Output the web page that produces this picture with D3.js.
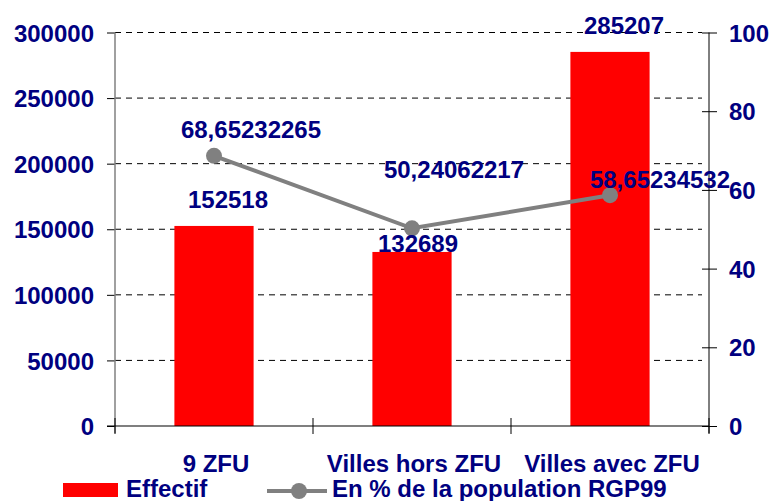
<!DOCTYPE html>
<html>
<head>
<meta charset="utf-8">
<script src="https://cdn.jsdelivr.net/npm/d3@7"></script>
<style>
  body { margin: 0; background: #fff; }
  text { font-family: "Liberation Sans", Arial, sans-serif; font-weight: bold; fill: #000080; }
</style>
</head>
<body>
<div id="chart"></div>
<script>
// data
var categories = ["9 ZFU", "Villes hors ZFU", "Villes avec ZFU"];
var effectif = [152518, 132689, 285207];
var pourcent = [68.65232265, 50.24062217, 58.65234532];
var pourcentLabels = ["68,65232265", "50,24062217", "58,65234532"];
var leftTicks = [0, 50000, 100000, 150000, 200000, 250000, 300000];
var rightTicks = [0, 20, 40, 60, 80, 100];
var legendNames = ["Effectif", "En % de la population RGP99"];

// label nudges (dx, dy) as placed on the original chart
var barLabelNudge = [[14, -18], [6, 0], [14, -18]];
var lineLabelNudge = [[37, -18], [42, -50], [50, -7]];

drawChart();

function drawChart() {
    var width = 774, height = 501;
    var plotLeft = 115, plotRight = 709, plotTop = 32.5, plotBottom = 426;

    var svg = d3.select("#chart").append("svg")
        .attr("width", width)
        .attr("height", height);

    var x = d3.scaleBand().domain(categories).range([plotLeft, plotRight]).padding(0);
    var yL = d3.scaleLinear().domain([0, 300000]).range([plotBottom, plotTop]);
    var yR = d3.scaleLinear().domain([0, 100]).range([plotBottom, plotTop]);

    // gridlines
    svg.append("g").selectAll("line")
        .data(leftTicks.slice(1))
        .enter().append("line")
        .attr("x1", plotLeft).attr("x2", plotRight - 7)
        .attr("y1", d => yL(d)).attr("y2", d => yL(d))
        .attr("stroke", "#000").attr("stroke-width", 1)
        .attr("stroke-dasharray", "6,5");

    // bars
    var bw = x.bandwidth() * 0.4;
    svg.append("g").selectAll("rect")
        .data(effectif)
        .enter().append("rect")
        .attr("x", (d, i) => x(categories[i]) + x.bandwidth() / 2 - bw / 2)
        .attr("y", d => yL(d))
        .attr("width", bw)
        .attr("height", d => plotBottom - yL(d))
        .attr("fill", "#ff0000");

    // left axis
    var leftAxis = d3.axisLeft(yL).tickValues(leftTicks).tickSize(8).tickPadding(13).tickFormat(d3.format("d"));
    var gL = svg.append("g").attr("transform", `translate(${plotLeft},0)`).call(leftAxis);
    gL.select(".domain").remove();
    gL.selectAll(".tick line").attr("stroke", "#000");
    gL.selectAll(".tick text").attr("font-size", 24).attr("dy", "0.36em")
        .style("font-family", "'Liberation Sans', Arial, sans-serif").style("font-weight", "bold").attr("fill", "#000080");
    svg.append("line")
        .attr("x1", plotLeft).attr("x2", plotLeft).attr("y1", plotTop).attr("y2", plotBottom + 7)
        .attr("stroke", "#808080").attr("stroke-width", 1.5);

    // right axis
    var rightAxis = d3.axisRight(yR).tickValues(rightTicks).tickSizeInner(8).tickSizeOuter(0).tickPadding(12);
    var gR = svg.append("g").attr("transform", `translate(${plotRight},0)`).call(rightAxis);
    gR.select(".domain").attr("d", `M0,${plotTop}V${plotBottom + 7}`).attr("stroke", "#000");
    gR.selectAll(".tick line").attr("x1", -7).attr("stroke", "#000");
    gR.selectAll(".tick text").attr("font-size", 24).attr("dy", "0.36em")
        .style("font-family", "'Liberation Sans', Arial, sans-serif").style("font-weight", "bold").attr("fill", "#000080");

    // x axis
    svg.append("line")
        .attr("x1", plotLeft - 8).attr("x2", plotRight).attr("y1", plotBottom).attr("y2", plotBottom)
        .attr("stroke", "#000").attr("stroke-width", 1.2);
    var bounds = categories.map(c => x(c)).concat([plotRight]);
    svg.append("g").selectAll("line")
        .data(bounds)
        .enter().append("line")
        .attr("x1", d => d).attr("x2", d => d)
        .attr("y1", plotBottom - 8).attr("y2", plotBottom + 8)
        .attr("stroke", "#000");
    svg.append("g").selectAll("text")
        .data(categories)
        .enter().append("text")
        .attr("x", d => x(d) + x.bandwidth() / 2 + 2)
        .attr("y", 472)
        .attr("text-anchor", "middle")
        .attr("font-size", 24)
        .text(d => d);

    // line series
    var cx = (d, i) => x(categories[i]) + x.bandwidth() / 2;
    var line = d3.line().x(cx).y(d => yR(d));
    svg.append("path")
        .datum(pourcent)
        .attr("d", line)
        .attr("fill", "none")
        .attr("stroke", "#808080")
        .attr("stroke-width", 4);
    svg.append("g").selectAll("circle")
        .data(pourcent)
        .enter().append("circle")
        .attr("cx", cx)
        .attr("cy", d => yR(d))
        .attr("r", 8)
        .attr("fill", "#808080");

    // bar labels
    svg.append("g").selectAll("text")
        .data(effectif)
        .enter().append("text")
        .attr("x", (d, i) => cx(d, i) + barLabelNudge[i][0])
        .attr("y", (d, i) => yL(d) + barLabelNudge[i][1])
        .attr("text-anchor", "middle")
        .attr("font-size", 24)
        .text(d => d);

    // line labels
    svg.append("g").selectAll("text")
        .data(pourcent)
        .enter().append("text")
        .attr("x", (d, i) => cx(d, i) + lineLabelNudge[i][0])
        .attr("y", (d, i) => yR(d) + lineLabelNudge[i][1])
        .attr("text-anchor", "middle")
        .attr("font-size", 24)
        .text((d, i) => pourcentLabels[i]);

    // legend
    var lg = svg.append("g");
    lg.append("rect").attr("x", 63).attr("y", 483).attr("width", 55).attr("height", 14).attr("fill", "#ff0000");
    lg.append("text").attr("x", 126).attr("y", 497).attr("font-size", 24).text(legendNames[0]);
    lg.append("line").attr("x1", 267).attr("x2", 327).attr("y1", 491).attr("y2", 491)
        .attr("stroke", "#808080").attr("stroke-width", 4);
    lg.append("circle").attr("cx", 299).attr("cy", 491).attr("r", 8).attr("fill", "#808080");
    lg.append("text").attr("x", 332).attr("y", 497).attr("font-size", 24).text(legendNames[1]);
}
</script>
</body>
</html>
